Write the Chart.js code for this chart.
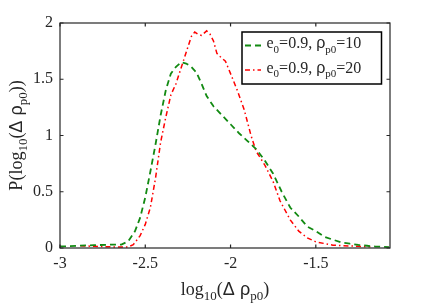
<!DOCTYPE html>
<html>
<head>
<meta charset="utf-8">
<script src="https://cdn.jsdelivr.net/npm/chart.js@4/dist/chart.umd.min.js"></script>
<style>
html,body{margin:0;padding:0;background:#fff;}
#wrap{width:431px;height:305px;}
</style>
</head>
<body>
<div id="wrap"><canvas id="c" width="431" height="305"></canvas></div>
<script>
// ---- data ----
const greenX = [-3.0,-2.95,-2.9,-2.8,-2.7,-2.64,-2.6,-2.56,-2.53,-2.5,-2.47,-2.44,-2.41,-2.38,-2.35,-2.32,-2.29,-2.26,-2.23,-2.2,-2.17,-2.14,-2.1,-2.05,-2.0,-1.95,-1.9,-1.85,-1.8,-1.75,-1.7,-1.65,-1.6,-1.55,-1.5,-1.45,-1.4,-1.35,-1.3,-1.25,-1.2,-1.15,-1.1,-1.07];
const greenY = [0.015,0.015,0.02,0.025,0.03,0.03,0.06,0.15,0.27,0.45,0.68,0.92,1.18,1.40,1.55,1.61,1.65,1.64,1.61,1.56,1.46,1.35,1.26,1.18,1.10,1.02,0.95,0.88,0.78,0.66,0.50,0.36,0.28,0.19,0.15,0.10,0.074,0.05,0.038,0.028,0.02,0.013,0.01,0.008];
const redX = [-2.88,-2.8,-2.7,-2.6,-2.57,-2.53,-2.5,-2.47,-2.44,-2.41,-2.38,-2.35,-2.32,-2.29,-2.26,-2.23,-2.21,-2.19,-2.17,-2.14,-2.12,-2.1,-2.08,-2.06,-2.03,-2.0,-1.96,-1.92,-1.88,-1.85,-1.8,-1.75,-1.71,-1.65,-1.6,-1.55,-1.5,-1.45,-1.4,-1.3,-1.25,-1.18];
const redY = [0.02,0.015,0.01,0.01,0.03,0.11,0.21,0.36,0.62,0.94,1.16,1.36,1.46,1.60,1.74,1.88,1.92,1.90,1.89,1.93,1.90,1.84,1.73,1.70,1.66,1.55,1.40,1.23,1.00,0.86,0.74,0.59,0.42,0.25,0.15,0.09,0.055,0.04,0.025,0.018,0.015,0.01];
const xTicks = [-3, -2.5, -2, -1.5];
const yTicks = [0, 0.5, 1, 1.5, 2];
const xRange = [-3, -1.065];
const yRange = [0, 2];
// rich text parts: [text, kind] kind: n normal, s subscript, g greek
const xTitleParts = [["log","n"],["10","s"],["(","n"],["Δ ","g"],["ρ","g"],["p0","s"],[")","n"]];
const yTitleParts = [["P(log","n"],["10","s"],["(","n"],["Δ ","g"],["ρ","g"],["p0","s"],["))","n"]];
const seriesLabels = [
  [["e","n"],["0","s"],["=0.9, ","n"],["ρ","g"],["p0","s"],["=10","n"]],
  [["e","n"],["0","s"],["=0.9, ","n"],["ρ","g"],["p0","s"],["=20","n"]]
];
const seriesColors = ["rgb(18,138,18)", "rgb(255,0,0)"];
const seriesDash = [[6,4],[5,3,1.5,3]];
const seriesWidth = [1.8, 1.5];

const AX = '#262626';
const SERIF = '"Liberation Serif","Times New Roman",serif';
const GREEK = '"Liberation Sans","DejaVu Sans",sans-serif';

function fontFor(kind, size){
  if (kind === 's') return Math.round(size*0.7) + 'px ' + SERIF;
  if (kind === 'g') return size + 'px ' + GREEK;
  return size + 'px ' + SERIF;
}
function richWidth(ctx, parts, size){
  let w = 0;
  for (const [t,k] of parts){ ctx.font = fontFor(k,size); w += ctx.measureText(t).width; }
  return w;
}
function drawRich(ctx, parts, x, y, size){
  let cx = x;
  ctx.textBaseline = 'alphabetic';
  ctx.textAlign = 'left';
  for (const [t,k] of parts){
    ctx.font = fontFor(k,size);
    const dy = k === 's' ? size*0.3 : 0;
    ctx.fillText(t, cx, y + dy);
    cx += ctx.measureText(t).width;
  }
}

const decor = {
  id: 'decor',
  afterDatasetsDraw(chart){
    const ctx = chart.ctx;
    const a = chart.chartArea;
    const xs = chart.scales.x, ys = chart.scales.y;
    ctx.save();
    // box
    ctx.strokeStyle = AX; ctx.lineWidth = 1.2; ctx.setLineDash([]);
    ctx.strokeRect(a.left, a.top, a.right - a.left, a.bottom - a.top);
    // inward ticks
    const tl = 3.5;
    ctx.beginPath();
    for (const v of xTicks){
      const px = xs.getPixelForValue(v);
      ctx.moveTo(px, a.bottom); ctx.lineTo(px, a.bottom - tl);
      ctx.moveTo(px, a.top); ctx.lineTo(px, a.top + tl);
    }
    for (const v of yTicks){
      const py = ys.getPixelForValue(v);
      ctx.moveTo(a.left, py); ctx.lineTo(a.left + tl, py);
      ctx.moveTo(a.right, py); ctx.lineTo(a.right - tl, py);
    }
    ctx.stroke();
    // axis titles
    ctx.fillStyle = AX;
    const tsize = 18;
    const xw = richWidth(ctx, xTitleParts, tsize);
    drawRich(ctx, xTitleParts, (a.left + a.right)/2 - xw/2, 295, tsize);
    const yw = richWidth(ctx, yTitleParts, tsize);
    ctx.save();
    ctx.translate(22, (a.top + a.bottom)/2);
    ctx.rotate(-Math.PI/2);
    drawRich(ctx, yTitleParts, -yw/2, 0, tsize);
    ctx.restore();
    // legend
    const lx0 = a.right - 148, ly0 = a.top + 9, lw = 139.5, lh = 52;
    ctx.fillStyle = '#fff';
    ctx.fillRect(lx0, ly0, lw, lh);
    ctx.strokeStyle = '#000'; ctx.lineWidth = 1.5;
    ctx.strokeRect(lx0, ly0, lw, lh);
    for (let i = 0; i < seriesLabels.length; i++){
      const cy = ly0 + 13.5 + i*24.5;
      ctx.strokeStyle = seriesColors[i];
      ctx.lineWidth = seriesWidth[i];
      ctx.setLineDash(seriesDash[i]);
      ctx.beginPath(); ctx.moveTo(lx0 + 3, cy); ctx.lineTo(lx0 + 19, cy); ctx.stroke();
      ctx.setLineDash([]);
      ctx.fillStyle = AX;
      drawRich(ctx, seriesLabels[i], lx0 + 24.5, cy + 2.5, 16);
    }
    ctx.restore();
  }
};

const datasets = [
  {data: greenX.map((x,i)=>({x, y: greenY[i]})), borderColor: seriesColors[0], borderDash: seriesDash[0], borderWidth: seriesWidth[0]},
  {data: redX.map((x,i)=>({x, y: redY[i]})), borderColor: seriesColors[1], borderDash: seriesDash[1], borderWidth: seriesWidth[1]}
].map(d => Object.assign(d, {showLine: true, pointRadius: 0, tension: 0, fill: false}));

new Chart(document.getElementById('c'), {
  type: 'scatter',
  data: { datasets },
  options: {
    responsive: false,
    animation: false,
    devicePixelRatio: 1,
    layout: { padding: { left: 0, right: 41, top: 23, bottom: 0 } },
    plugins: { legend: { display: false }, tooltip: { enabled: false } },
    scales: {
      x: {
        type: 'linear', min: xRange[0], max: xRange[1],
        afterBuildTicks: s => { s.ticks = xTicks.map(v => ({value: v})); },
        afterFit: s => { s.height = 57; },
        grid: { display: false, drawTicks: false },
        border: { display: false },
        ticks: { color: AX, font: { family: SERIF, size: 16 }, padding: 6, maxRotation: 0,
                 callback: v => String(v) }
      },
      y: {
        type: 'linear', min: yRange[0], max: yRange[1],
        afterBuildTicks: s => { s.ticks = yTicks.map(v => ({value: v})); },
        afterFit: s => { s.width = 60; },
        grid: { display: false, drawTicks: false },
        border: { display: false },
        ticks: { color: AX, font: { family: SERIF, size: 16 }, padding: 7,
                 callback: v => String(v) }
      }
    }
  },
  plugins: [decor]
});
</script>
</body>
</html>
